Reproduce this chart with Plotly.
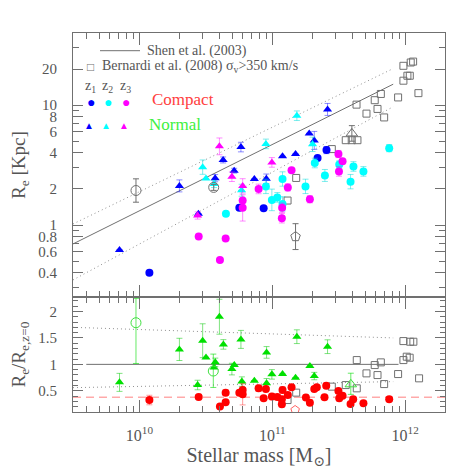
import numpy as np
import plotly.graph_objects as go
from plotly.subplots import make_subplots

# ---------------- top panel: Re [kpc] vs log10(M*) ----------------
# compact galaxies (circles), z1 / z2 / z3
cz1_logm = [10.075, 10.752, 10.935, 11.341, 11.408]
cz1_re = [0.40, 1.39, 1.38, 3.62, 4.22]
cz1_err = [0, 0, 0, 0, 0.03]

cz2_logm = [10.651, 10.952, 10.997, 11.038, 11.077, 11.077, 11.25, 11.32, 11.396, 11.504, 11.589, 11.611, 11.686, 11.88]
cz2_re = [1.24, 2.10, 1.62, 1.70, 1.50, 2.42, 2.10, 3.29, 2.59, 3.20, 2.30, 3.08, 2.80, 4.38]
cz2_err = [0, 0.06, 0.09, 0.04, 0.06, 0.06, 0.06, 0.04, 0.05, 0.03, 0.06, 0.04, 0.04, 0.03]

cz3_logm = [10.446, 10.649, 10.606, 10.777, 10.777, 10.897, 11.074, 11.072, 11.117, 11.145, 11.283, 11.498, 11.529, 11.502]
cz3_re = [0.80, 0.77, 0.51, 1.60, 1.39, 2.00, 1.39, 1.14, 2.06, 2.87, 1.64, 3.91, 3.40, 2.80]
cz3_err = [0, 0, 0, 0, 0.11, 0.04, 0.04, 0.04, 0.03, 0, 0.03, 0.03, 0, 0.04]

# normal galaxies (triangles)
nz1_logm = [9.85, 10.301, 10.444, 10.57, 10.63, 10.713, 10.764, 10.865, 10.955, 11.077, 11.175, 11.278, 11.316, 11.416]
nz1_re = [0.62, 2.12, 1.24, 2.46, 3.49, 2.84, 4.47, 2.42, 2.43, 3.74, 3.91, 5.81, 5.08, 9.21]
nz1_err = [0, 0.05, 0, 0.03, 0.025, 0.02, 0.04, 0, 0.04, 0, 0, 0, 0.075, 0.05]

nz2_logm = [10.476, 10.501, 10.562, 10.769, 10.952, 11.185, 11.303]
nz2_re = [3.04, 2.44, 2.20, 1.95, 4.75, 8.16, 4.71]
nz2_err = [0.06, 0, 0.03, 0.05, 0.04, 0.04, 0.06]

nz3_logm = [10.438, 10.602, 10.696, 10.777, 10.997]
nz3_re = [1.20, 4.53, 2.53, 2.12, 3.33]
nz3_err = [0.03, 0.07, 0.04, 0.06, 0.04]

# open reference symbols
ref_circ_logm = [9.974, 10.559]
ref_circ_re = [1.94, 2.06]
ref_circ_err = [0.0975, 0.025]
ref_pent_logm = [11.175]
ref_pent_re = [0.80]
ref_pent_err = [0.108]
ref_tri_logm = [11.599]
ref_tri_re = [5.81]
ref_tri_err = [0.065]

# Bernardi et al. (2008), sigma > 350 km/s
bern_logm = [11.987, 12.042, 12.06, 11.987, 12.017, 12.035, 11.817, 11.771, 11.947, 12.10,
             11.634, 11.709, 11.792, 11.842, 11.553, 11.598, 11.641, 11.448, 11.18, 11.115]
bern_re = [21.3, 22.7, 23.1, 16.0, 17.6, 17.6, 12.4, 11.0, 11.6, 12.6,
           10.1, 8.5, 9.3, 7.9, 5.1, 5.1, 5.1, 4.3, 2.47, 1.60]

# Shen et al. (2003) relation and its scatter
shen_logm = [9.5, 11.91]
shen_re = [0.695, 14.96]
shen_hi_re = [1.02, 20.2]
shen_lo_re = [0.348, 9.70]

# ---------------- bottom panel: Re / Re,z=0 ----------------
norm_logm = [9.85, 10.301, 10.438, 10.476, 10.501, 10.571, 10.562, 10.602, 10.632, 10.696, 10.714, 10.764,
             10.771, 10.865, 10.957, 10.957, 10.997, 11.077, 11.175, 11.185, 11.283, 11.316, 11.416]
norm_ratio = [0.66, 1.283, 0.61, 1.447, 1.132, 1.038, 0.943, 1.90, 1.377, 0.911, 0.987, 1.472,
              0.674, 0.692, 1.226, 0.642, 0.811, 0.817, 0.749, 1.523, 0.968, 0.779, 1.334]
norm_ratio_err = [0.17, 0.21, 0.09, 0.32, 0, 0.08, 0, 0.33, 0.09, 0.11, 0, 0.17,
                  0.09, 0, 0.11, 0.09, 0.09, 0, 0, 0.13, 0, 0.07, 0.13]

comp_logm = [10.075, 10.446, 10.606, 10.649, 10.649, 10.752, 10.777, 10.777, 10.897, 10.935, 10.952,
             10.997, 11.038, 11.077, 11.072, 11.072, 11.117, 11.145, 11.253, 11.283, 11.316, 11.335,
             11.393, 11.406, 11.498, 11.504, 11.529, 11.589, 11.609, 11.686, 11.88]
comp_ratio = [0.326, 0.383, 0.202, 0.466, 0.283, 0.466, 0.515, 0.434, 0.547, 0.358, 0.534,
              0.391, 0.383, 0.515, 0.34, 0.245, 0.421, 0.566, 0.372, 0.277, 0.534, 0.566,
              0.377, 0.598, 0.496, 0.358, 0.409, 0.251, 0.34, 0.264, 0.34]
comp_ratio_err = [0.09, 0.05, 0, 0.05, 0, 0, 0.05, 0.2, 0.06, 0, 0.05,
                  0.06, 0.04, 0.06, 0.06, 0.05, 0.04, 0, 0.05, 0.05, 0.04, 0,
                  0.04, 0.05, 0.04, 0.05, 0, 0, 0.05, 0, 0.04]

bern_r_logm = [11.987, 12.038, 12.062, 11.636, 11.771, 11.817, 11.987, 12.012, 12.034, 11.709,
               11.792, 11.947, 12.105, 11.842, 11.553, 11.636, 11.448, 11.18, 11.115]
bern_ratio = [1.44, 1.428, 1.428, 1.081, 0.987, 1.038, 1.081, 1.145, 1.126, 0.83,
              0.798, 0.817, 0.736, 0.628, 0.609, 0.547, 0.579, 0.466, 0.326]

ref_r_circ_logm = [9.974, 10.556]
ref_r_circ = [1.787, 0.874]
ref_r_circ_up = [0.46, 0.32]
ref_r_circ_dn = [0.77, 0.31]
ref_r_tri_logm = [11.591]
ref_r_tri = [0.623]
ref_r_tri_up = [0.21]
ref_r_tri_dn = [0.19]
ref_r_pent_logm = [11.172]
ref_r_pent = [0.138]

ratio_line_logm = [9.6, 11.95]
ratio_one = [1, 1]
ratio_dot_logm = [9.5, 11.91]
ratio_hi = [1.70, 1.50]
ratio_lo = [0.56, 0.674]
dash_logm = [9.5, 12.3]
dash_ratio = [0.38, 0.38]

GREY = "#707070"
DOT = dict(color="#909090", width=1, dash="1px,3px")
FONT = "Liberation Serif, Times New Roman, DejaVu Serif, serif"


def m(logm):
    return [10 ** v for v in logm]


def dex_err(re, e, color):
    re = np.array(re, float)
    e = np.array(e, float)
    return dict(type="data", symmetric=False, array=re * (10 ** e - 1),
                arrayminus=re * (1 - 10 ** -e), color=color, thickness=1, width=3)


fig = make_subplots(rows=2, cols=1, shared_xaxes=True, vertical_spacing=0,
                    row_heights=[0.697, 0.303])

# relation lines
fig.add_trace(go.Scatter(x=m(shen_logm), y=shen_re, mode="lines",
                         line=dict(color=GREY, width=1)), row=1, col=1)
for yy in (shen_hi_re, shen_lo_re):
    fig.add_trace(go.Scatter(x=m(shen_logm), y=yy, mode="lines", line=DOT), row=1, col=1)

# Bernardi squares
fig.add_trace(go.Scatter(x=m(bern_logm), y=bern_re, mode="markers",
                         marker=dict(symbol="square-open", size=7, color=GREY, line=dict(width=1))),
              row=1, col=1)

groups = [
    (nz1_logm, nz1_re, nz1_err, "triangle-up", "#0000ff", "rgba(0,0,255,0.45)"),
    (nz2_logm, nz2_re, nz2_err, "triangle-up", "#00ffff", "rgba(0,220,220,0.5)"),
    (nz3_logm, nz3_re, nz3_err, "triangle-up", "#ff00ff", "rgba(255,0,255,0.45)"),
    (cz1_logm, cz1_re, cz1_err, "circle", "#0000ff", "rgba(0,0,255,0.45)"),
    (cz2_logm, cz2_re, cz2_err, "circle", "#00ffff", "rgba(0,220,220,0.5)"),
    (cz3_logm, cz3_re, cz3_err, "circle", "#ff00ff", "rgba(255,0,255,0.45)"),
]
for lm, re, err, sym, col, ecol in groups:
    fig.add_trace(go.Scatter(x=m(lm), y=re, mode="markers", error_y=dex_err(re, err, ecol),
                             marker=dict(symbol=sym, size=8, color=col)), row=1, col=1)

for lm, re, err, sym in [(ref_circ_logm, ref_circ_re, ref_circ_err, "circle-open"),
                         (ref_pent_logm, ref_pent_re, ref_pent_err, "pentagon-open"),
                         (ref_tri_logm, ref_tri_re, ref_tri_err, "triangle-up-open")]:
    fig.add_trace(go.Scatter(x=m(lm), y=re, mode="markers",
                             error_y=dex_err(re, err, GREY),
                             marker=dict(symbol=sym, size=10, color=GREY, line=dict(width=1))),
                  row=1, col=1)

# bottom panel lines
fig.add_trace(go.Scatter(x=m(dash_logm), y=dash_ratio, mode="lines",
                         line=dict(color="rgba(255,0,0,0.5)", width=1, dash="8px,5px")), row=2, col=1)
fig.add_trace(go.Scatter(x=m(ratio_line_logm), y=ratio_one, mode="lines",
                         line=dict(color=GREY, width=1)), row=2, col=1)
for yy in (ratio_hi, ratio_lo):
    fig.add_trace(go.Scatter(x=m(ratio_dot_logm), y=yy, mode="lines", line=DOT), row=2, col=1)

fig.add_trace(go.Scatter(x=m(bern_r_logm), y=bern_ratio, mode="markers",
                         marker=dict(symbol="square-open", size=7, color=GREY, line=dict(width=1))),
              row=2, col=1)
fig.add_trace(go.Scatter(x=m(norm_logm), y=norm_ratio, mode="markers",
                         error_y=dict(type="data", array=norm_ratio_err, color="rgba(0,200,0,0.5)",
                                      thickness=1, width=3),
                         marker=dict(symbol="triangle-up", size=8, color="#00e000")), row=2, col=1)
fig.add_trace(go.Scatter(x=m(comp_logm), y=comp_ratio, mode="markers",
                         error_y=dict(type="data", array=comp_ratio_err, color="rgba(255,0,0,0.4)",
                                      thickness=1, width=3),
                         marker=dict(symbol="circle", size=8, color="#ff0000")), row=2, col=1)
fig.add_trace(go.Scatter(x=m(ref_r_circ_logm), y=ref_r_circ, mode="markers",
                         error_y=dict(type="data", symmetric=False, array=ref_r_circ_up,
                                      arrayminus=ref_r_circ_dn, color="rgba(0,220,0,0.6)",
                                      thickness=1, width=3),
                         marker=dict(symbol="circle-open", size=10, color="#40e040", line=dict(width=1))),
              row=2, col=1)
fig.add_trace(go.Scatter(x=m(ref_r_tri_logm), y=ref_r_tri, mode="markers",
                         error_y=dict(type="data", symmetric=False, array=ref_r_tri_up,
                                      arrayminus=ref_r_tri_dn, color="rgba(0,220,0,0.6)",
                                      thickness=1, width=3),
                         marker=dict(symbol="triangle-up-open", size=10, color="#40e040", line=dict(width=1))),
              row=2, col=1)
fig.add_trace(go.Scatter(x=m(ref_r_pent_logm), y=ref_r_pent, mode="markers",
                         marker=dict(symbol="pentagon-open", size=9, color="#ff6060", line=dict(width=1))),
              row=2, col=1)

# axes
axis_common = dict(showline=True, linecolor=GREY, linewidth=1, mirror="ticks", ticks="inside",
                   tickcolor=GREY, showgrid=False, zeroline=False, automargin=False)
tickfont = dict(family=FONT, size=15, color="#555")
xmaj = [1e10, 1e11, 1e12]
xmin = [k * d for d in (1e9, 1e10, 1e11, 1e12) for k in range(2, 10)]
for r in (1, 2):
    fig.update_xaxes(type="log", range=[9.5, 12.3], tickvals=xmaj, ticklen=12,
                     ticktext=["10<sup>10</sup>", "10<sup>11</sup>", "10<sup>12</sup>"],
                     minor=dict(tickvals=xmin, ticks="inside", ticklen=6, tickcolor=GREY),
                     ticklabelstandoff=9, tickfont=dict(family=FONT, size=16, color="#555"),
                     **axis_common, row=r, col=1)
fig.update_xaxes(showticklabels=False, row=1, col=1)
fig.update_xaxes(title=dict(text="Stellar mass [M<sub>\u2299</sub>]", standoff=2,
                            font=dict(family=FONT, size=20, color="#555")), row=2, col=1)

ymaj = [0.4, 0.6, 0.8, 1, 2, 4, 6, 8, 10, 20]
ymin = [0.3, 0.5, 0.7, 0.9, 3, 5, 7, 9, 30]
fig.update_yaxes(type="log", range=[np.log10(0.25), np.log10(40)], tickvals=ymaj,
                 ticktext=[str(v) for v in ymaj], ticklen=10, ticklabelstandoff=12, tickfont=tickfont,
                 minor=dict(tickvals=ymin, ticks="inside", ticklen=6, tickcolor=GREY),
                 title=dict(text="R<sub>e</sub> [Kpc]", standoff=8,
                            font=dict(family=FONT, size=19, color="#555")),
                 **axis_common, row=1, col=1)
fig.update_yaxes(range=[0.1, 2.27], tickvals=[0.5, 1, 1.5, 2], ticktext=["0.5", "1", "1.5", "2"],
                 ticklen=10, ticklabelstandoff=12, tickfont=tickfont,
                 minor=dict(dtick=0.1, ticks="inside", ticklen=5, tickcolor=GREY),
                 title=dict(text="R<sub>e</sub>/R<sub>e,z=0</sub>", standoff=8,
                            font=dict(family=FONT, size=19, color="#555")),
                 **axis_common, row=2, col=1)

# legend drawn as annotations in the upper panel
L = 65.0
W = 372.0
B = 404.0
H = 379.0


def px(x):
    return (x - L) / W


def py(y):
    return (B - y) / H


ann = []
txt = dict(family=FONT, size=14, color="#555")
fig.add_shape(type="line", xref="paper", yref="paper", x0=px(92), x1=px(132), y0=py(42.7), y1=py(42.7),
              line=dict(color=GREY, width=1))
ann.append(dict(x=px(137), y=py(42.7), text="Shen et al. (2003)", xanchor="left", font=txt))
ann.append(dict(x=px(82.7), y=py(58.3), text="\u25a1", xanchor="center", font=dict(size=12, color=GREY)))
ann.append(dict(x=px(92), y=py(58.3), text="Bernardi et al. (2008) \u03c3<sub>v</sub>>350 km/s",
                xanchor="left", font=txt))
for i, (xx, col) in enumerate([(82.7, "#0000ff"), (99.8, "#00ffff"), (117.5, "#ff00ff")]):
    ann.append(dict(x=px(xx), y=py(78), text="z<sub>%d</sub>" % (i + 1), xanchor="center", font=txt))
    ann.append(dict(x=px(xx), y=py(93.3), text="\u25cf", xanchor="center",
                    font=dict(size=14, color=col)))
    ann.append(dict(x=px(xx - 2), y=py(117.3), text="\u25b2", xanchor="center",
                    font=dict(size=10, color=col)))
ann.append(dict(x=px(175), y=py(91.5), text="Compact", xanchor="center",
                font=dict(family=FONT, size=17, color="#ff4040")))
ann.append(dict(x=px(167), y=py(117), text="Normal", xanchor="center",
                font=dict(family=FONT, size=17, color="#40f040")))
for a in ann:
    a.update(xref="paper", yref="paper", yanchor="middle", showarrow=False)
fig.update_layout(annotations=ann)

fig.update_layout(width=469, height=469, showlegend=False, plot_bgcolor="white", paper_bgcolor="white",
                  margin=dict(l=65, r=32, t=25, b=65, autoexpand=False))
fig.write_html("out.html")
